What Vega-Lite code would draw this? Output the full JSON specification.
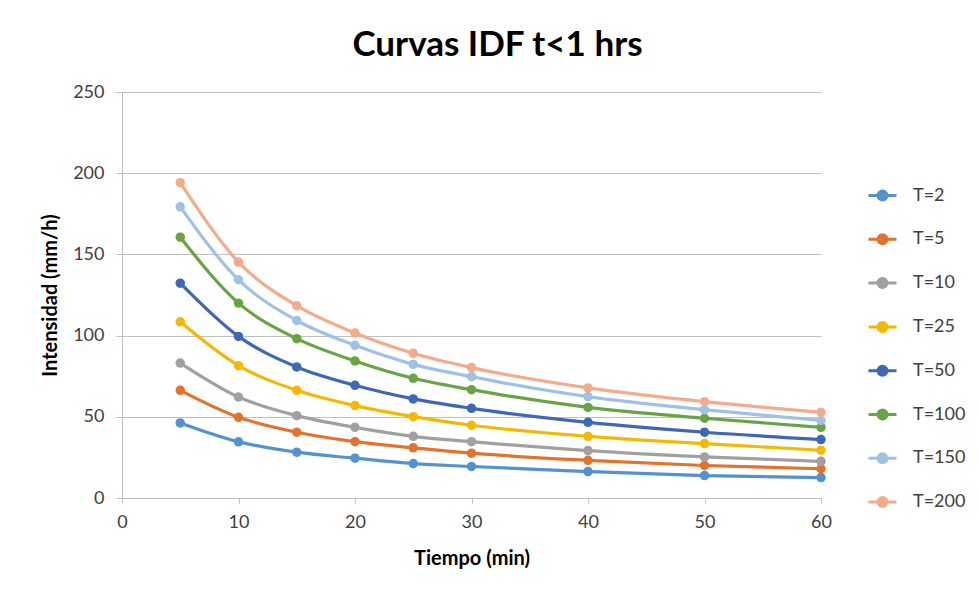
{
  "$schema": "https://vega.github.io/schema/vega-lite/v6.json",
  "autosize": {"type": "none"},
  "width": 699,
  "height": 406,
  "padding": {"left": 122, "top": 92, "right": 158, "bottom": 100},
  "background": "white",
  "title": {
    "text": "Curvas IDF t<1 hrs",
    "font": "Lato",
    "fontSize": 35,
    "fontWeight": "bold",
    "color": "#000000",
    "anchor": "middle",
    "dx": 26,
    "offset": 20
  },
  "config": {
    "view": {"stroke": null},
    "font": "Lato"
  },
  "data": {
    "values": [
      {"t": 5, "serie": "T=2", "i": 46.2}, {"t": 10, "serie": "T=2", "i": 34.6}, {"t": 15, "serie": "T=2", "i": 28.2},
      {"t": 20, "serie": "T=2", "i": 24.5}, {"t": 25, "serie": "T=2", "i": 21.2}, {"t": 30, "serie": "T=2", "i": 19.4},
      {"t": 40, "serie": "T=2", "i": 16.3}, {"t": 50, "serie": "T=2", "i": 13.8}, {"t": 60, "serie": "T=2", "i": 12.6},
      {"t": 5, "serie": "T=5", "i": 66.3}, {"t": 10, "serie": "T=5", "i": 49.7}, {"t": 15, "serie": "T=5", "i": 40.5},
      {"t": 20, "serie": "T=5", "i": 34.7}, {"t": 25, "serie": "T=5", "i": 30.9}, {"t": 30, "serie": "T=5", "i": 27.6},
      {"t": 40, "serie": "T=5", "i": 23.2}, {"t": 50, "serie": "T=5", "i": 20.0}, {"t": 60, "serie": "T=5", "i": 18.0},
      {"t": 5, "serie": "T=10", "i": 83.1}, {"t": 10, "serie": "T=10", "i": 62.2}, {"t": 15, "serie": "T=10", "i": 50.7},
      {"t": 20, "serie": "T=10", "i": 43.5}, {"t": 25, "serie": "T=10", "i": 38.0}, {"t": 30, "serie": "T=10", "i": 34.7},
      {"t": 40, "serie": "T=10", "i": 29.2}, {"t": 50, "serie": "T=10", "i": 25.3}, {"t": 60, "serie": "T=10", "i": 22.6},
      {"t": 5, "serie": "T=25", "i": 108.5}, {"t": 10, "serie": "T=25", "i": 81.5}, {"t": 15, "serie": "T=25", "i": 66.3},
      {"t": 20, "serie": "T=25", "i": 56.9}, {"t": 25, "serie": "T=25", "i": 50.1}, {"t": 30, "serie": "T=25", "i": 44.8},
      {"t": 40, "serie": "T=25", "i": 38.0}, {"t": 50, "serie": "T=25", "i": 33.5}, {"t": 60, "serie": "T=25", "i": 29.4},
      {"t": 5, "serie": "T=50", "i": 132.3}, {"t": 10, "serie": "T=50", "i": 99.5}, {"t": 15, "serie": "T=50", "i": 80.7},
      {"t": 20, "serie": "T=50", "i": 69.4}, {"t": 25, "serie": "T=50", "i": 61.0}, {"t": 30, "serie": "T=50", "i": 55.2},
      {"t": 40, "serie": "T=50", "i": 46.6}, {"t": 50, "serie": "T=50", "i": 40.5}, {"t": 60, "serie": "T=50", "i": 36.0},
      {"t": 5, "serie": "T=100", "i": 160.6}, {"t": 10, "serie": "T=100", "i": 120.0}, {"t": 15, "serie": "T=100", "i": 98.1},
      {"t": 20, "serie": "T=100", "i": 84.4}, {"t": 25, "serie": "T=100", "i": 73.7}, {"t": 30, "serie": "T=100", "i": 66.7},
      {"t": 40, "serie": "T=100", "i": 55.8}, {"t": 50, "serie": "T=100", "i": 49.1}, {"t": 60, "serie": "T=100", "i": 43.5},
      {"t": 5, "serie": "T=150", "i": 179.3}, {"t": 10, "serie": "T=150", "i": 134.4}, {"t": 15, "serie": "T=150", "i": 109.3},
      {"t": 20, "serie": "T=150", "i": 94.0}, {"t": 25, "serie": "T=150", "i": 82.3}, {"t": 30, "serie": "T=150", "i": 74.7},
      {"t": 40, "serie": "T=150", "i": 62.4}, {"t": 50, "serie": "T=150", "i": 54.4}, {"t": 60, "serie": "T=150", "i": 47.8},
      {"t": 5, "serie": "T=200", "i": 194.2}, {"t": 10, "serie": "T=200", "i": 145.3}, {"t": 15, "serie": "T=200", "i": 118.4},
      {"t": 20, "serie": "T=200", "i": 101.6}, {"t": 25, "serie": "T=200", "i": 89.1}, {"t": 30, "serie": "T=200", "i": 80.3},
      {"t": 40, "serie": "T=200", "i": 67.8}, {"t": 50, "serie": "T=200", "i": 59.3}, {"t": 60, "serie": "T=200", "i": 52.8}
    ]
  },
  "encoding": {
    "x": {
      "field": "t",
      "type": "quantitative",
      "scale": {"domain": [0, 60], "nice": false, "zero": true},
      "axis": {
        "title": "Tiempo (min)",
        "values": [0, 10, 20, 30, 40, 50, 60],
        "grid": false,
        "domainColor": "#bfbfbf",
        "tickColor": "#bfbfbf",
        "tickSize": 5,
        "labelFontSize": 18,
        "labelColor": "#404040",
        "labelPadding": 10,
        "labelFlush": false,
        "titleFontSize": 20,
        "titleFontWeight": "bold",
        "titleColor": "#000000",
        "titlePadding": 17
      }
    },
    "y": {
      "field": "i",
      "type": "quantitative",
      "scale": {"domain": [0, 250], "nice": false},
      "axis": {
        "title": "Intensidad (mm/h)",
        "values": [0, 50, 100, 150, 200, 250],
        "gridColor": "#c0c0c0",
        "domainColor": "#bfbfbf",
        "tickColor": "#bfbfbf",
        "tickSize": 6,
        "labelFontSize": 18,
        "labelColor": "#404040",
        "labelPadding": 12,
        "titleFontSize": 20,
        "titleFontWeight": "bold",
        "titleColor": "#000000",
        "titlePadding": 12
      }
    },
    "color": {
      "field": "serie",
      "type": "nominal",
      "sort": ["T=2", "T=5", "T=10", "T=25", "T=50", "T=100", "T=150", "T=200"],
      "scale": {
        "domain": ["T=2", "T=5", "T=10", "T=25", "T=50", "T=100", "T=150", "T=200"],
        "range": ["#5192cf", "#e2732c", "#a0a0a0", "#f5b800", "#3f67b8", "#69a443", "#9ec2e6", "#f3ab8c"]
      },
      "legend": {
        "title": null,
        "orient": "none",
        "legendX": 745,
        "legendY": 88,
        "symbolType": "M-1,0L1,0M-0.32,0a0.32,0.32 0 1,0 0.64,0a0.32,0.32 0 1,0 -0.64,0",
        "symbolSize": 784,
        "symbolStrokeWidth": 3,
        "symbolOpacity": 1,
        "labelFontSize": 18,
        "labelColor": "#404040",
        "labelOffset": 15,
        "rowPadding": 17.8
      }
    },
    "order": {"field": "t", "type": "quantitative"}
  },
  "layer": [
    {
      "mark": {"type": "line", "interpolate": "monotone", "strokeWidth": 3.2},
      "encoding": {}
    },
    {
      "mark": {"type": "circle", "size": 90, "opacity": 1},
      "encoding": {}
    }
  ]
}
